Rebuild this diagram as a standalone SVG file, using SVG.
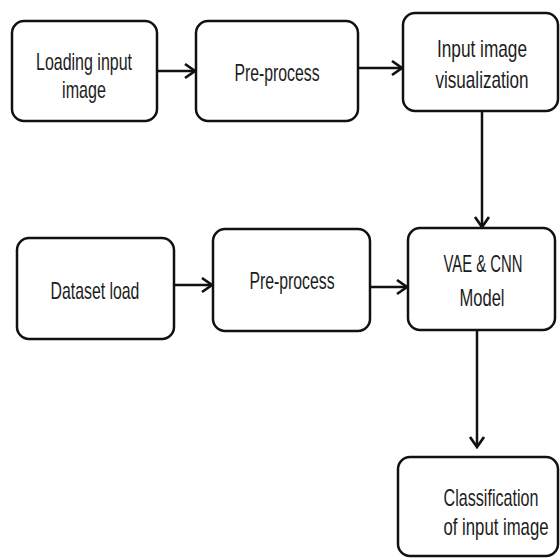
<svg xmlns="http://www.w3.org/2000/svg" width="560" height="558" viewBox="0 0 560 558">
<style>
.box{fill:#fff;stroke:#111;stroke-width:2.5}
.lbl{font-family:"Liberation Sans",Arial,sans-serif;font-size:24px;fill:#1c1c1c;text-anchor:middle}
.conn{stroke:#111;stroke-width:2.5;fill:none}
</style>
<defs>
<marker id="arr" markerUnits="userSpaceOnUse" viewBox="-12 -9 14 18" refX="0" refY="0" markerWidth="14" markerHeight="18" orient="auto">
<path d="M-10,-7 L0,0 L-10,7" fill="none" stroke="#111" stroke-width="2.7"/>
</marker>
</defs>
<rect width="560" height="558" fill="#fff"/>
<g id="connectors">
<line class="conn" x1="157" y1="71" x2="195" y2="71" marker-end="url(#arr)"/>
<line class="conn" x1="358" y1="68" x2="402" y2="68" marker-end="url(#arr)"/>
<line class="conn" x1="482" y1="111" x2="482" y2="227" marker-end="url(#arr)"/>
<line class="conn" x1="174" y1="285" x2="212" y2="285" marker-end="url(#arr)"/>
<line class="conn" x1="370" y1="287" x2="407" y2="287" marker-end="url(#arr)"/>
<line class="conn" x1="477" y1="330" x2="477" y2="447" marker-end="url(#arr)"/>
</g>
<g id="loading-input">
<rect class="box" x="12" y="21" width="145" height="100" rx="12"/>
<text class="lbl" transform="translate(84 70) scale(0.6 1)" textLength="160" lengthAdjust="spacingAndGlyphs">Loading input</text>
<text class="lbl" transform="translate(84 98) scale(0.6 1)" textLength="73" lengthAdjust="spacingAndGlyphs">image</text>
</g>
<g id="preprocess-1">
<rect class="box" x="196" y="21" width="162" height="100" rx="12"/>
<text class="lbl" transform="translate(277 81) scale(0.6 1)" textLength="142" lengthAdjust="spacingAndGlyphs">Pre-process</text>
</g>
<g id="input-visualization">
<rect class="box" x="403" y="13" width="155" height="98" rx="12"/>
<text class="lbl" transform="translate(482 57) scale(0.6 1)" textLength="150" lengthAdjust="spacingAndGlyphs">Input  image</text>
<text class="lbl" transform="translate(482 88) scale(0.6 1)" textLength="155" lengthAdjust="spacingAndGlyphs">visualization</text>
</g>
<g id="dataset-load">
<rect class="box" x="17" y="238" width="157" height="101" rx="12"/>
<text class="lbl" transform="translate(95 299) scale(0.6 1)" textLength="148" lengthAdjust="spacingAndGlyphs">Dataset load</text>
</g>
<g id="preprocess-2">
<rect class="box" x="213" y="229" width="157" height="102" rx="12"/>
<text class="lbl" transform="translate(292 289) scale(0.6 1)" textLength="142" lengthAdjust="spacingAndGlyphs">Pre-process</text>
</g>
<g id="vae-cnn">
<rect class="box" x="408" y="228" width="147" height="102" rx="12"/>
<text class="lbl" transform="translate(483 272) scale(0.6 1)" textLength="132" lengthAdjust="spacingAndGlyphs">VAE &amp; CNN</text>
<text class="lbl" transform="translate(482 306) scale(0.6 1)" textLength="75" lengthAdjust="spacingAndGlyphs">Model</text>
</g>
<g id="classification">
<rect class="box" x="398" y="457" width="160" height="99" rx="12"/>
<text class="lbl" transform="translate(491 506) scale(0.6 1)" textLength="158" lengthAdjust="spacingAndGlyphs">Classification</text>
<text class="lbl" transform="translate(496 535) scale(0.6 1)" textLength="175" lengthAdjust="spacingAndGlyphs">of input image</text>
</g>
</svg>
